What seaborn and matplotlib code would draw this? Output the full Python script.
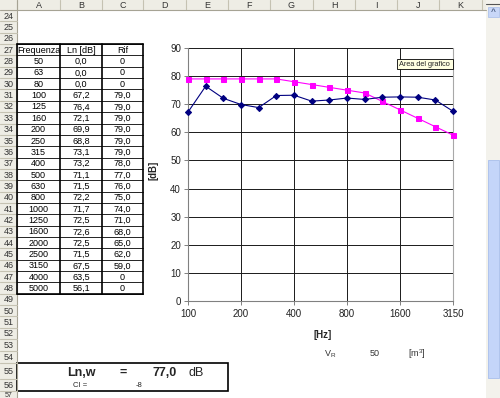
import numpy as np
import pandas as pd
import seaborn as sns
import matplotlib.pyplot as plt
from matplotlib.patches import Rectangle

# --------- #
# data

freq = [50, 63, 80, 100, 125, 160, 200, 250, 315, 400, 500, 630, 800,
        1000, 1250, 1600, 2000, 2500, 3150, 4000, 5000]
ln_db = [0.0, 0.0, 0.0, 67.2, 76.4, 72.1, 69.9, 68.8, 73.1, 73.2, 71.1, 71.5,
         72.2, 71.7, 72.5, 72.6, 72.5, 71.5, 67.5, 63.5, 56.1]
rif = [0, 0, 0, 79.0, 79.0, 79.0, 79.0, 79.0, 79.0, 78.0, 77.0, 76.0, 75.0,
       74.0, 71.0, 68.0, 65.0, 62.0, 59.0, 0, 0]
col_letters = ["A", "B", "C", "D", "E", "F", "G", "H", "I", "J", "K"]
row_numbers = list(range(24, 58))
ln_w = 77.0
ci = -8
v_r = 50

# chart uses 100 .. 3150 Hz only
chart = pd.DataFrame({"freq": freq[3:19], "Ln": ln_db[3:19], "Rif": rif[3:19]})
chart["pos"] = np.arange(len(chart))

# --------- #

sns.set_theme(style="white")
plt.rcParams["font.family"] = ["Liberation Sans", "DejaVu Sans"]

fig = plt.figure(figsize=(5, 3.98), dpi=100)
fig.patch.set_facecolor("white")

# sheet background in pixel coordinates
bg = fig.add_axes([0, 0, 1, 1], zorder=0)
bg.set_xlim(0, 500)
bg.set_ylim(398, 0)
bg.axis("off")

head_col = "#EEEDE5"
head_line = "#C5C2B2"
col_edges = [17, 60, 102, 143, 186, 228, 270, 313, 355, 397, 439, 482]
row_edges = [10 + i * 11.35 for i in range(31)] + [363, 379, 391, 402]

# column header
bg.add_patch(Rectangle((0, 0), 486, 10, facecolor=head_col, edgecolor="none"))
for i, letter in enumerate(col_letters):
    bg.plot([col_edges[i], col_edges[i]], [0, 10], color=head_line, lw=0.8)
    bg.text((col_edges[i] + col_edges[i + 1]) / 2, 5.5, letter, ha="center",
            va="center", fontsize=6.5, color="#333333")
bg.plot([col_edges[-1], col_edges[-1]], [0, 10], color=head_line, lw=0.8)
bg.plot([0, 486], [10, 10], color="#A6A394", lw=0.8)

# row numbers
bg.add_patch(Rectangle((0, 10), 17, 390, facecolor=head_col, edgecolor="none"))
bg.plot([17, 17], [0, 398], color="#A6A394", lw=0.8)
for i, r in enumerate(row_numbers):
    top, bot = row_edges[i], row_edges[i + 1]
    bg.plot([0, 17], [bot, bot], color=head_line, lw=0.8)
    if r == row_numbers[-1]:
        # last row is only partly visible, keep its label inside the picture
        bg.text(8.5, 392, str(r), ha="center", va="top", fontsize=5, color="#333333")
    else:
        bg.text(8.5, (top + bot) / 2 + 0.5, str(r), ha="center", va="center",
                fontsize=6.5, color="#333333")


def fmt(v, zero_plain=False):
    if zero_plain and v == 0:
        return "0"
    return f"{v:.1f}".replace(".", ",")


# data table rows 27..48
t_top = row_edges[3]
t_bot = row_edges[25]
headers = ["Frequenza", "Ln [dB]", "Rif"]
for j, h in enumerate(headers):
    bg.text((col_edges[j] + col_edges[j + 1]) / 2, (row_edges[3] + row_edges[4]) / 2 + 0.5,
            h, ha="center", va="center", fontsize=6.5, color="black")
for i in range(len(freq)):
    top, bot = row_edges[4 + i], row_edges[5 + i]
    yc = (top + bot) / 2 + 0.5
    vals = [str(freq[i]), fmt(ln_db[i]), fmt(rif[i], zero_plain=True)]
    for j, v in enumerate(vals):
        bg.text((col_edges[j] + col_edges[j + 1]) / 2, yc, v, ha="center",
                va="center", fontsize=6.5, color="black")
for k in range(3, 26):
    bg.plot([17, 143], [row_edges[k], row_edges[k]], color="black", lw=0.6)
for x in col_edges[:4]:
    bg.plot([x, x], [t_top, t_bot], color="black", lw=1.2)
bg.plot([17, 143], [t_top, t_top], color="black", lw=1.2)
bg.plot([17, 143], [t_bot, t_bot], color="black", lw=1.2)

# Ln,w result box
bg.add_patch(Rectangle((17, 363), 211, 28, facecolor="none", edgecolor="black", lw=1.2))
bg.text(81, 373, "Ln,w", ha="center", va="center", fontsize=9, fontweight="bold")
bg.text(123, 373, "=", ha="center", va="center", fontsize=9, fontweight="bold")
bg.text(177, 373, fmt(ln_w), ha="right", va="center", fontsize=9, fontweight="bold")
bg.text(196, 373, "dB", ha="center", va="center", fontsize=9)
bg.text(80, 385.5, "CI =", ha="center", va="center", fontsize=5.5)
bg.text(142, 385.5, str(ci), ha="right", va="center", fontsize=5.5)

# volume note
bg.text(330, 354, r"V$_\mathregular{R}$", ha="center", va="center", fontsize=6.5, color="#333333")
bg.text(375, 354, str(v_r), ha="center", va="center", fontsize=6.5, color="#333333")
bg.text(417, 354, r"[m$^\mathregular{3}$]", ha="center", va="center", fontsize=6.5, color="#333333")

# scrollbar
bg.add_patch(Rectangle((486, 0), 14, 398, facecolor="#F3F2EC", edgecolor="none"))
bg.plot([486, 500], [4, 4], color="#555555", lw=0.8)
bg.add_patch(Rectangle((488, 7), 11, 10, facecolor="#C8D7F8", edgecolor="#AFC3EC", lw=0.6))
bg.text(493.5, 12.5, "^", ha="center", va="center", fontsize=6, color="#4D6185", fontweight="bold")
bg.add_patch(Rectangle((487.5, 160), 11.5, 218, facecolor="#C4D5F9", edgecolor="#A8BEEC", lw=0.6))

# --------- #
# chart: plot area 188..453 x, 48..301 y (pixels)

ax = fig.add_axes([188 / 500, (398 - 301) / 398, 265 / 500, 253 / 398], zorder=1)
ax.set_facecolor("white")
sns.lineplot(data=chart, x="pos", y="Rif", ax=ax, color="#FF00FF", marker="s",
             markersize=3.6, linewidth=0.8, markeredgecolor="#FF00FF", clip_on=False, zorder=3)
sns.lineplot(data=chart, x="pos", y="Ln", ax=ax, color="#000080", marker="D",
             markersize=3.1, linewidth=0.8, markeredgecolor="#000080", clip_on=False, zorder=4)

ax.set_xlim(0, len(chart) - 1)
ax.set_ylim(0, 90)
ax.set_xticks(chart["pos"][::3])
ax.set_xticklabels(chart["freq"][::3])
ax.set_yticks(range(0, 91, 10))
ax.grid(True, color="#1A1A1A", linewidth=0.7)
ax.tick_params(axis="both", labelsize=7, length=3, width=0.7, colors="#808080",
               labelcolor="#222222", direction="out", pad=2)
ax.tick_params(axis="x", pad=3)
ax.xaxis.set_ticks_position("bottom")
ax.yaxis.set_ticks_position("left")
for side, c in [("left", "#808080"), ("bottom", "#808080"), ("right", "#A8A8A8")]:
    ax.spines[side].set_color(c)
    ax.spines[side].set_linewidth(0.8)
ax.spines["top"].set_visible(False)

ax.set_xlabel("[Hz]", fontsize=7, fontweight="bold")
ax.set_ylabel("[dB]", fontsize=7, fontweight="bold")
ax.xaxis.set_label_coords(0.509, -0.115)
ax.yaxis.set_label_coords(-0.113, 0.518)

# tooltip overlay
top = fig.add_axes([0, 0, 1, 1], zorder=2)
top.set_xlim(0, 500)
top.set_ylim(398, 0)
top.axis("off")
top.patch.set_alpha(0)
top.add_patch(Rectangle((397, 59), 56, 10, facecolor="#FFFFE1", edgecolor="black", lw=0.6))
top.text(399, 64.3, "Area del grafico", ha="left", va="center", fontsize=5.3)

fig.savefig("out.png", dpi=100)
